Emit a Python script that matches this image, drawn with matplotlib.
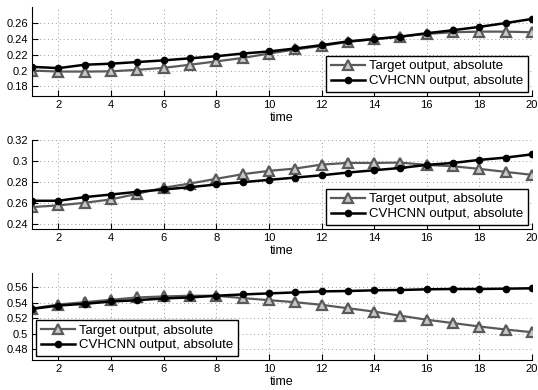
import matplotlib
matplotlib.use("Agg")
import matplotlib.pyplot as plt
from matplotlib.ticker import FuncFormatter

plt.rcParams['font.family'] = ['Liberation Sans', 'DejaVu Sans']

time = list(range(1, 21))

target1 = [0.200, 0.1987, 0.1987, 0.199, 0.2009, 0.2034, 0.2073, 0.2115, 0.2158, 0.2214,
           0.2265, 0.231, 0.236, 0.2395, 0.2428, 0.2462, 0.2482, 0.249, 0.249, 0.2482]
cv1 = [0.2047, 0.203, 0.2073, 0.2086, 0.2107, 0.2128, 0.2154, 0.218, 0.2214, 0.224,
       0.2278, 0.232, 0.2367, 0.2397, 0.2427, 0.247, 0.2508, 0.255, 0.2598, 0.265]

target2 = [0.2559, 0.2575, 0.260, 0.2632, 0.2686, 0.2743, 0.2784, 0.2829, 0.2873, 0.2905,
           0.2927, 0.2965, 0.2981, 0.2981, 0.2984, 0.2962, 0.2949, 0.2924, 0.2895, 0.2867]
cv2 = [0.2619, 0.2619, 0.2654, 0.2679, 0.2705, 0.2727, 0.2749, 0.2775, 0.2797, 0.2819,
       0.2841, 0.2863, 0.2889, 0.2911, 0.2933, 0.2962, 0.2981, 0.301, 0.3032, 0.3063]

target3 = [0.5322, 0.5374, 0.5404, 0.5435, 0.5465, 0.5478, 0.5487, 0.5487, 0.5457, 0.543,
           0.5404, 0.537, 0.5326, 0.5283, 0.523, 0.5178, 0.5135, 0.5091, 0.5052, 0.5017]
cv3 = [0.5317, 0.5361, 0.5383, 0.5413, 0.543, 0.5452, 0.5465, 0.5487, 0.5504, 0.5517,
       0.553, 0.5543, 0.5548, 0.5557, 0.5561, 0.557, 0.5574, 0.5574, 0.5578, 0.5583]

panels = [
    (target1, cv1, (0.168, 0.28), [0.18, 0.2, 0.22, 0.24, 0.26], 'lower right',
     [0.0595, 0.754, 0.9295, 0.228]),
    (target2, cv2, (0.235, 0.32), [0.24, 0.26, 0.28, 0.3, 0.32], 'lower right',
     [0.0595, 0.413, 0.9295, 0.228]),
    (target3, cv3, (0.466, 0.578), [0.48, 0.5, 0.52, 0.54, 0.56], 'lower left',
     [0.0595, 0.077, 0.9295, 0.223]),
]

fig = plt.figure(figsize=(5.38, 3.9), dpi=100)
gray = '#5a5a5a'
fmt = FuncFormatter(lambda v, p: ('%g' % round(v, 4)))

for tgt, cv, ylim, yticks, loc, rect in panels:
    ax = fig.add_axes(rect)
    ax.plot(time, tgt, color=gray, lw=1.6, marker='^', ms=6.5, mfc='#c8c8c8',
            mec=gray, mew=1.6, label='Target output, absolute')
    ax.plot(time, cv, color='black', lw=1.8, marker='o', ms=4.5, mfc='black',
            mec='black', label='CVHCNN output, absolute')
    ax.set_xlim(1, 20)
    ax.set_ylim(*ylim)
    ax.set_xticks(range(2, 21, 2))
    ax.set_yticks(yticks)
    ax.yaxis.set_major_formatter(fmt)
    ax.grid(True, linestyle=(0, (1, 3)), color='#999999', lw=0.7)
    ax.spines['top'].set_visible(False)
    ax.spines['right'].set_visible(False)
    ax.tick_params(direction='in', length=4, labelsize=8, pad=3)
    ax.set_xlabel('time', fontsize=9, labelpad=1.5)
    leg = ax.legend(loc=loc, fontsize=9.5, frameon=True, fancybox=False,
                    edgecolor='black', framealpha=1, borderpad=0.35,
                    handlelength=2.6, handletextpad=0.3, labelspacing=0.2,
                    borderaxespad=0.3)
    leg.get_frame().set_linewidth(1.0)

fig.savefig('out.png', dpi=100)
